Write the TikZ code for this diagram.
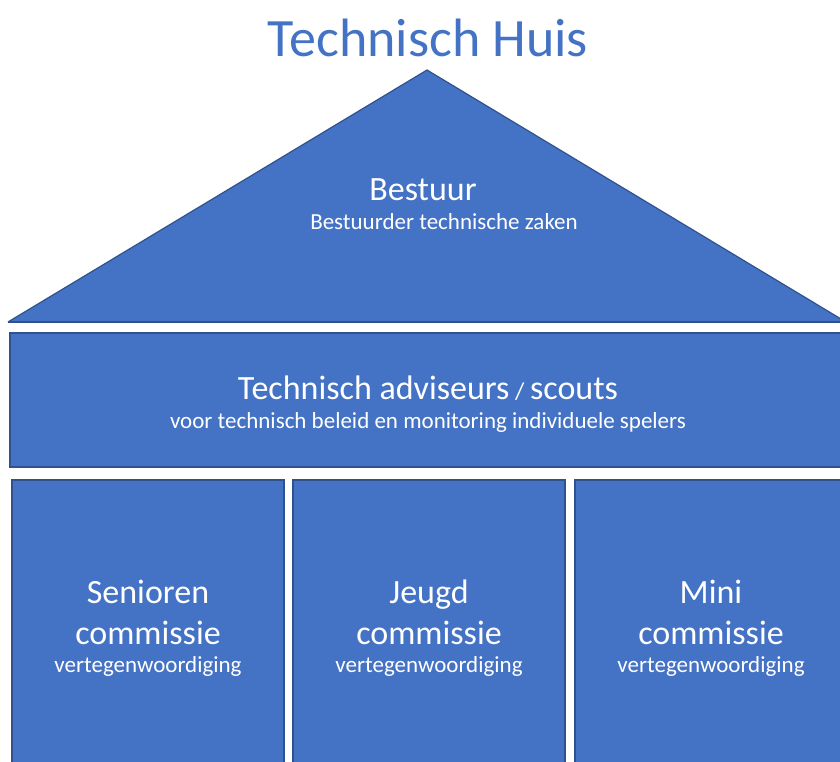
\documentclass[tikz,border=0pt]{standalone}
\usepackage{fontspec}
\setmainfont{Carlito}
\usepackage{tikz}
\usetikzlibrary{positioning}
\definecolor{huisblauw}{HTML}{4472C4}
\definecolor{huisrand}{HTML}{2F528F}
\tikzset{
  blok/.style={fill=huisblauw, draw=huisrand, line width=1.2pt},
  kop/.style={text=white, font=\fontsize{34}{41}\selectfont, align=center},
  sub/.style={text=white, font=\fontsize{23}{26}\selectfont, align=center}
}

\begin{document}
\begin{tikzpicture}[x=1pt, y=-1pt]
    % Kader van de afbeelding
    \useasboundingbox (0, 0) rectangle (840, 762);

    % Titel
    \node[text=huisblauw, font=\fontsize{54}{58}\selectfont] (titel) at (428, 38) {Technisch Huis};

    % Dak (driehoek)
    \coordinate (top) at (427, 70);
    \coordinate (links) at (8, 322);
    \coordinate (rechts) at (846, 322);
    \fill[huisblauw] (links) -- (top) -- (rechts) -- cycle;
    \draw[huisrand, line width=1.2pt] (links) -- (top) -- (rechts);
    \draw[huisrand, line width=1.2pt] (links) -- (rechts);
    \node[kop] (bestuur) at (423, 190) {Bestuur};
    \node[sub] (bestuurder) at (444, 222) {Bestuurder technische zaken};

    % Middenbalk
    \draw[blok] (10, 333) rectangle (850, 467);
    \node[kop] (adviseurs) at (428, 388) {Technisch adviseurs\,{\fontsize{24}{26}\selectfont/}\,scouts};
    \node[sub] (beleid) at (428, 422) {voor technisch beleid en monitoring individuele spelers};

    % Drie kolommen
    \draw[blok] (12, 480) rectangle (284, 775);
    \draw[blok] (293, 480) rectangle (565, 775);
    \draw[blok] (575, 480) rectangle (850, 775);

    \node[kop] (senioren) at (148, 612) {Senioren\\commissie};
    \node[sub] (vert1) at (148, 666) {vertegenwoordiging};
    \node[kop] (jeugd) at (429, 612) {Jeugd\\commissie};
    \node[sub] (vert2) at (429, 666) {vertegenwoordiging};
    \node[kop] (mini) at (711, 612) {Mini\\commissie};
    \node[sub] (vert3) at (711, 666) {vertegenwoordiging};
\end{tikzpicture}
\end{document}
